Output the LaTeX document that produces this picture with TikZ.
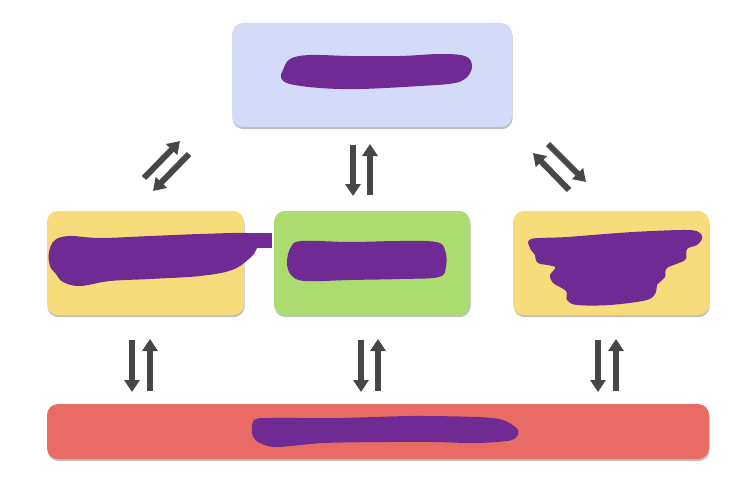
\documentclass[tikz,border=0pt]{standalone}
\usetikzlibrary{arrows.meta,shadows}
\definecolor{lav}{HTML}{D4DBF9}
\definecolor{yel}{HTML}{F8DC7B}
\definecolor{grn}{HTML}{AADC70}
\definecolor{redb}{HTML}{E96B66}
\definecolor{purp}{HTML}{6F2A94}
\definecolor{agrey}{HTML}{474747}
\tikzset{
  box/.style={rounded corners=11pt, inner sep=0pt,
    drop shadow={shadow xshift=0.6pt, shadow yshift=-2.2pt, opacity=0.35, fill=black!70}},
  blob/.style={fill=purp, draw=none},
  arr/.style={draw=agrey, line width=6pt, -{Triangle[length=12pt,width=15pt]}},
}
\begin{document}
\begin{tikzpicture}[x=1pt,y=-1pt]
\useasboundingbox (0,0) rectangle (740,487);
% boxes
\node[box, fill=lav, minimum width=280pt, minimum height=104pt] (top) at (372,75) {};
\node[box, fill=yel, minimum width=197pt, minimum height=104pt] (left) at (145.5,263) {};
\node[box, fill=grn, minimum width=196pt, minimum height=104pt] (mid) at (372,263) {};
\node[box, fill=yel, minimum width=196pt, minimum height=104pt] (right) at (611,263) {};
\node[box, fill=redb, minimum width=662pt, minimum height=55pt] (bot) at (378,431.5) {};
% redaction blobs
\fill[blob] plot[smooth cycle, tension=0.6] coordinates {(283,70) (290,59) (310,55) (350,56) (400,56) (440,54) (465,56) (472,65) (468,76) (455,83) (420,86) (360,89) (320,88) (290,84) (281,78)};
\fill[blob] plot[smooth cycle, tension=0.6] coordinates {(55,240) (70,236) (100,238) (150,236) (200,234) (245,233) (257,236) (257,248) (250,258) (232,270) (200,276) (150,279) (110,281) (80,286) (63,282) (56,274) (50,266) (49,252)};
\fill[blob] (245,233) rectangle (272,247.5);
\fill[blob] plot[smooth cycle, tension=0.6] coordinates {(291,247) (302,241) (350,242) (400,241) (436,242) (445,250) (446,266) (439,277) (400,279) (350,280) (305,281) (291,275) (287,262)};
\fill[blob] plot[smooth cycle, tension=0.55] coordinates {(531,239) (567,237) (633,232) (687,230) (700,233) (702,239) (697,245) (687,249) (685,260) (667,268) (665,277) (657,285) (656,292) (647,300) (610,305) (577,305) (567,300) (566,291) (553,283) (550,275) (555,267) (538,263) (535,255) (530,248)};
\fill[blob] plot[smooth cycle, tension=0.5] coordinates {(254,420) (269,418) (340,418) (411,416) (477,417) (503,420) (518,430) (512,440) (477,443) (433,442) (389,442) (324,443) (276,447) (258,442) (252,433)};
% arrow end points
\coordinate (tl1s) at (144,178); \coordinate (tl1e) at (180,141);
\coordinate (tl2s) at (189,154); \coordinate (tl2e) at (153,191);
\coordinate (tm1s) at (353,145); \coordinate (tm1e) at (353,196);
\coordinate (tm2s) at (370,195); \coordinate (tm2e) at (370,144);
\coordinate (tr1s) at (569,190); \coordinate (tr1e) at (533,153);
\coordinate (tr2s) at (548,144); \coordinate (tr2e) at (586,182);
\coordinate (bl1s) at (132,340); \coordinate (bl1e) at (132,392);
\coordinate (bl2s) at (150,391); \coordinate (bl2e) at (150,339);
\coordinate (bm1s) at (361,340); \coordinate (bm1e) at (361,392);
\coordinate (bm2s) at (378,391); \coordinate (bm2e) at (378,339);
\coordinate (br1s) at (598,340); \coordinate (br1e) at (598,392);
\coordinate (br2s) at (616,391); \coordinate (br2e) at (616,339);
% arrows
\foreach \a in {tl1,tl2,tm1,tm2,tr1,tr2,bl1,bl2,bm1,bm2,br1,br2}
  \draw[arr] (\a s) -- (\a e);
\end{tikzpicture}
\end{document}
